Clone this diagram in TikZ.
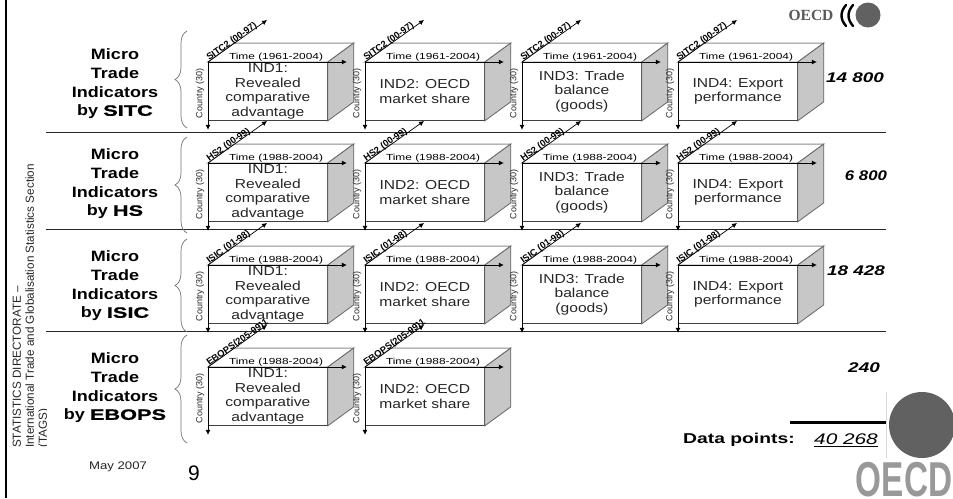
\documentclass[tikz,border=0pt]{standalone}
\usepackage{fontspec}
\setmainfont{Liberation Sans}
\newfontfamily\wide[FakeStretch=1.2]{Liberation Sans}
\newfontfamily\wider[FakeStretch=1.35]{Liberation Sans}
\newfontfamily\heavy[FakeStretch=1.45,BoldFeatures={FakeBold=1.2}]{Liberation Sans}
\newfontfamily\oecdbig[FakeStretch=.68]{Liberation Sans}
\newfontfamily\oecdsmall{Liberation Serif}
\usetikzlibrary{decorations.pathreplacing,calc,arrows.meta}
\tikzset{
 x=1pt,y=-1pt,
 front/.style={draw=black!75,line width=.8pt,fill=white,minimum width=119pt,minimum height=58pt,inner sep=0pt,anchor=north west,align=center,font=\wide\fontsize{13}{14.4}\selectfont,text=black!85},
 top/.style={draw=black!45,line width=1pt,fill=white},
 side/.style={draw=black!60,line width=.8pt,fill=black!22},
 axis/.style={-{Latex[length=5pt,width=5pt]},line width=.7pt,black},
 timelab/.style={font=\wider\fontsize{8.8}{9}\selectfont,inner sep=0pt},
 countrylab/.style={font=\fontsize{9}{9}\selectfont,rotate=90,inner sep=0pt,text=black!85},
 diaglab/.style={font=\bfseries\fontsize{9.3}{9}\selectfont,rotate=35.4,inner sep=0pt,anchor=south west,text=black,yshift=-2pt,xshift=1.5pt},
 rowtitle/.style={font=\wide\bfseries\fontsize{15}{18.6}\selectfont,align=center,inner sep=0pt},
 total/.style={font=\wider\bfseries\itshape\fontsize{14}{14}\selectfont,inner sep=0pt},
 sep/.style={line width=.7pt,black!85},
 bracebar/.style={draw=black!55,line width=.7pt,decorate,decoration={brace,amplitude=12pt,mirror}},
}
\newcommand{\cubeat}[6]{% name,x,y,text,diag,time
 \node[front] (#1) at (#2,#3) {#4};
 \path (#1.north west) coordinate (#1a) (#1.north east) coordinate (#1b) (#1.south east) coordinate (#1c);
 \coordinate (#1d) at ($(#1a)+(26,-19)$);
 \coordinate (#1e) at ($(#1b)+(26,-19)$);
 \coordinate (#1f) at ($(#1c)+(26,-19)$);
 \draw[top] (#1a) -- (#1d) -- (#1e) -- (#1b) -- cycle;
 \draw[side] (#1b) -- (#1e) -- (#1f) -- (#1c) -- cycle;
 \coordinate (#1t) at ($(#1b)+(19,0)$);
 \coordinate (#1s) at ($(#1.south west)+(0,9)$);
 \coordinate (#1g) at ($(#1a)+(59,-42)$);
 \draw[axis] (#1a) -- (#1t);
 \draw[axis] (#1a) -- (#1s);
 \draw[axis] (#1a) -- node[diaglab,pos=0] {#5} (#1g);
 \node[timelab] at ($(#1a)+(68,-5)$) {#6};
 \node[countrylab] at ($(#1a)+(-8,31)$) {Country (30)};
}
\newcommand{\INDa}{IND1:\\Revealed\\comparative\\advantage}
\newcommand{\INDb}{IND2: OECD\\market share}
\newcommand{\INDc}{IND3: Trade\\balance\\(goods)}
\newcommand{\INDd}{IND4: Export\\performance}
\newcommand{\hv}[1]{{\heavy\bfseries #1}}
\begin{document}
\begin{tikzpicture}
\useasboundingbox (0,0) rectangle (953,498);
\fill[white] (0,0) rectangle (953,498);
\coordinate (bl0) at (6,0); \coordinate (bl1) at (6,498);
\draw[line width=2.4pt,black] (bl0) -- (bl1);
% separators
\foreach \yy/\nm in {132.5/a,229.5/b,331/c}{
 \coordinate (sl\nm) at (46,\yy); \coordinate (sr\nm) at (886,\yy);
 \draw[sep] (sl\nm) -- (sr\nm);
}
% side text, cut at the slide's inner margin
\begin{scope}
\clip (8,100) rectangle (46,498);
\node[rotate=90,align=left,anchor=north west,inner sep=0pt,font=\fontsize{11.7}{13}\selectfont,text=black!85] (sidetext) at (12.5,448) {STATISTICS DIRECTORATE --\\International Trade and Globalisation Statistics Section\\(TAGS)};
\end{scope}
% braces
\foreach \nm/\ya/\yb in {ba/31/128,bb/137/233,bc/239/332,bd/335/443}{
 \coordinate (\nm1) at (187,\ya); \coordinate (\nm2) at (187,\yb);
 \draw[bracebar] (\nm1) -- (\nm2);
}
% titles
\node[rowtitle] (t1) at (115,84) {Micro\\Trade\\Indicators\\by \hv{SITC}};
\node[rowtitle] (t2) at (115,184) {Micro\\Trade\\Indicators\\by \hv{HS}};
\node[rowtitle] (t3) at (115,286) {Micro\\Trade\\Indicators\\by \hv{ISIC}};
\node[rowtitle] (t4) at (115,388) {Micro\\Trade\\Indicators\\by \hv{EBOPS}};
% cubes
\foreach \r/\yy/\dl/\tl in {a/62/SITC2 (00-97)/1961-2004,b/163/HS2 (00-99)/1988-2004,c/265/ISIC (01-98)/1988-2004}{
 \cubeat{\r1}{208}{\yy}{\INDa}{\dl}{Time (\tl)}
 \cubeat{\r2}{365}{\yy}{\INDb}{\dl}{Time (\tl)}
 \cubeat{\r3}{522}{\yy}{\INDc}{\dl}{Time (\tl)}
 \cubeat{\r4}{678}{\yy}{\INDd}{\dl}{Time (\tl)}
}
\cubeat{d1}{208}{367}{\INDa}{EBOPS(205-99)1}{Time (1988-2004)}
\cubeat{d2}{365}{367}{\INDb}{EBOPS(205-99)1}{Time (1988-2004)}
% totals
\node[total] (n1) at (855,78) {14 800};
\node[total,font=\wide\bfseries\itshape\fontsize{14}{14}\selectfont] (n2) at (866,176) {6 800};
\node[total] (n3) at (856,271) {18 428};
\node[total] (n4) at (864,368) {240};
\coordinate (ra) at (790,422.7); \coordinate (rb) at (886,422.7);
\draw[line width=2.5pt,black] (ra) -- (rb);
\node[font=\wider\bfseries\fontsize{14.3}{14}\selectfont,anchor=west,inner sep=0pt] (dp) at (683,440) {Data points:};
\node[font=\wider\itshape\fontsize{15.4}{14}\selectfont,anchor=west,inner sep=0pt] (dv) at (814,440) {\underline{40 268}};
% logos
\node[font=\oecdsmall\bfseries\fontsize{15.5}{15}\selectfont,inner sep=0pt,text=black!65] (oecdtop) at (811,15) {OECD};
\draw[line width=2.4pt,black,line cap=round] (846,5) .. controls (840,12) and (840,19) .. (846,26);
\draw[line width=2.4pt,black,line cap=round] (853,5) .. controls (847,12) and (847,19) .. (853,26);
\fill[black!62] (868,15) circle (12.5);
\fill[black!62] (922,425) circle (33);
\draw[black!15,line width=.6pt] (886,392) -- (886,458);
\node[font=\oecdbig\bfseries\fontsize{49}{49}\selectfont,text=black!40,inner sep=0pt,anchor=base] (oecd2) at (904,496) {OECD};
\node[font=\wide\fontsize{11}{12}\selectfont,text=black!85,inner sep=0pt] (may) at (118,467) {May 2007};
\node[font=\fontsize{21}{21}\selectfont,inner sep=0pt] (pg) at (194,473) {9};
\end{tikzpicture}
\end{document}
